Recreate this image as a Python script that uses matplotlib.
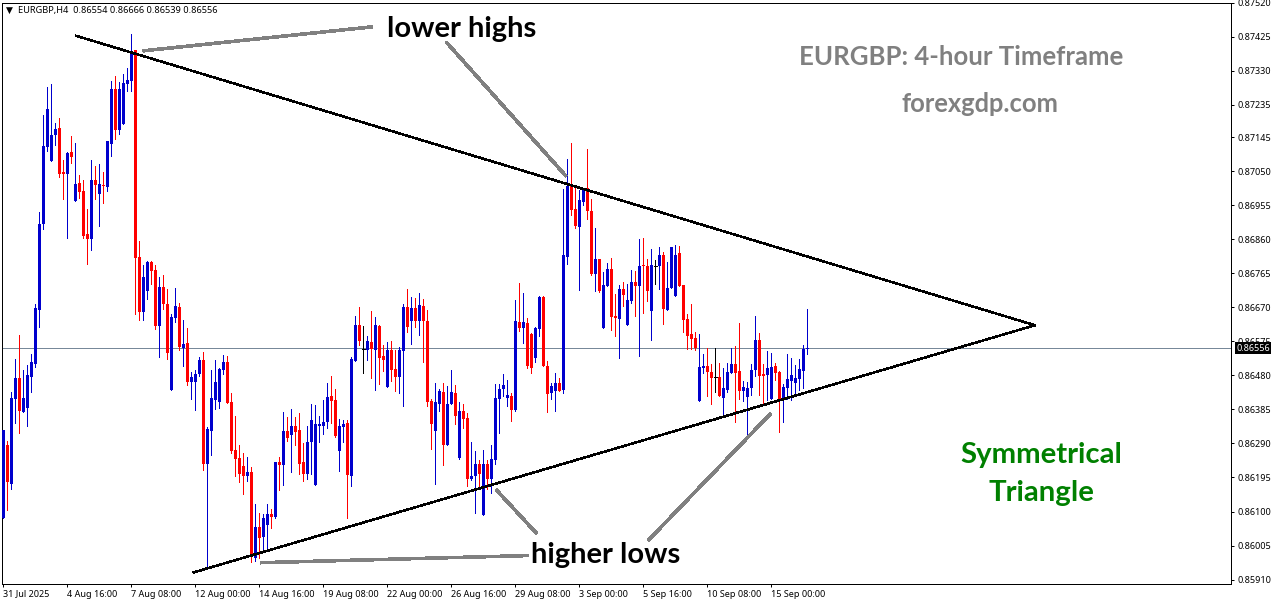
#!/usr/bin/env python3
"""EURGBP H4 candlesticks with a symmetrical triangle, MT4 style."""

import matplotlib
matplotlib.use("Agg")
import matplotlib.pyplot as plt
import matplotlib.transforms as mtransforms
import numpy as np

# OHLC in points (1 point = 0.00001), one entry per 4-hour bar
opens = [
    86081, 86287, 86178, 86413, 86472, 86377, 86388, 86475, 86511, 86662,
    86902, 87118, 87078, 87151, 87171, 87048, 87042, 87104, 86967, 87017,
    86995, 86874, 86860, 87025, 86986, 87011, 87006, 87126, 87280, 87165,
    87182, 87294, 87302, 87389, 86810, 86656, 86715, 86796, 86774, 86617,
    86726, 86679, 86438, 86640, 86670, 86556, 86570, 86461, 86461, 86483,
    86522, 86232, 86324, 86410, 86405, 86494, 86517, 86405, 86271, 86248,
    86226, 86198, 86209, 85971, 86058, 86030, 86061, 86092, 86086, 86237,
    86229, 86324, 86313, 86338, 86327, 86237, 86206, 86293, 86173, 86338,
    86338, 86349, 86422, 86410, 86268, 86335, 86346, 86198, 86519, 86620,
    86553, 86550, 86573, 86550, 86617, 86533, 86447, 86550, 86497, 86475,
    86547, 86670, 86631, 86668, 86631, 86673, 86631, 86408, 86324, 86399,
    86433, 86287, 86399, 86430, 86248, 86380, 86360, 86190, 86198, 86232,
    86089, 86232, 86192, 86243, 86413, 86441, 86416, 86422, 86382, 86628,
    86612, 86626, 86595, 86528, 86609, 86698, 86505, 86430, 86436, 86458,
    86438, 86810, 87008, 86944, 86894, 86964, 87003, 86939, 86763, 86804,
    86612, 86729, 86777, 86645, 86637, 86721, 86620, 86687, 86740, 86729,
    86788, 86785, 86659, 86785, 86785, 86816, 86662, 86723, 86701, 86821,
    86732, 86637, 86595, 86584, 86408, 86500, 86505, 86489, 86475, 86475,
    86416, 86438, 86486, 86511, 86492, 86436, 86419, 86444, 86494, 86578,
    86483, 86480, 86413, 86505, 86489, 86413, 86444, 86464, 86458, 86469,
    86492, 86554,
]
highs = [
    86327, 86296, 86433, 86525, 86592, 86494, 86508, 86539, 86679, 86936,
    87207, 87285, 87294, 87185, 87199, 87081, 87104, 87148, 87129, 87039,
    87025, 86944, 87081, 87064, 87070, 87048, 87134, 87302, 87316, 87299,
    87322, 87338, 87433, 87389, 86855, 86788, 86799, 86799, 86788, 86754,
    86760, 86721, 86651, 86723, 86682, 86634, 86612, 86489, 86494, 86531,
    86545, 86335, 86494, 86522, 86500, 86536, 86533, 86430, 86368, 86285,
    86262, 86251, 86223, 86122, 86097, 86092, 86120, 86106, 86237, 86251,
    86377, 86363, 86385, 86363, 86374, 86290, 86338, 86399, 86396, 86366,
    86410, 86458, 86478, 86441, 86357, 86355, 86355, 86531, 86645, 86670,
    86617, 86589, 86659, 86642, 86620, 86564, 86573, 86575, 86550, 86559,
    86679, 86721, 86698, 86695, 86709, 86693, 86662, 86413, 86458, 86441,
    86458, 86450, 86494, 86452, 86405, 86399, 86374, 86293, 86268, 86243,
    86271, 86243, 86285, 86455, 86455, 86483, 86466, 86430, 86690, 86737,
    86709, 86640, 86598, 86614, 86701, 86701, 86519, 86458, 86486, 86472,
    87000, 87084, 87129, 87003, 86997, 87003, 87112, 86972, 86891, 86804,
    86768, 86793, 86807, 86707, 86732, 86740, 86735, 86774, 86771, 86860,
    86863, 86804, 86833, 86802, 86838, 86824, 86796, 86838, 86844, 86841,
    86732, 86651, 86679, 86600, 86595, 86539, 86556, 86511, 86556, 86514,
    86500, 86514, 86556, 86561, 86626, 86464, 86461, 86511, 86645, 86598,
    86511, 86547, 86542, 86514, 86492, 86455, 86539, 86528, 86508, 86525,
    86564, 86666,
]
lows = [
    86081, 86103, 86164, 86346, 86318, 86377, 86338, 86433, 86503, 86614,
    86888, 87106, 87078, 87123, 87034, 86972, 86863, 87073, 86967, 86975,
    86863, 86791, 86830, 86972, 86897, 86961, 86995, 87092, 87140, 87154,
    87182, 87274, 87274, 86651, 86634, 86634, 86693, 86735, 86609, 86531,
    86665, 86525, 86438, 86628, 86550, 86505, 86452, 86413, 86382, 86478,
    86215, 85944, 86257, 86385, 86388, 86483, 86402, 86262, 86198, 86181,
    86148, 86184, 85960, 85963, 85969, 85988, 85997, 86055, 86081, 86159,
    86173, 86296, 86209, 86285, 86206, 86184, 86190, 86206, 86173, 86293,
    86315, 86332, 86346, 86307, 86212, 86293, 86081, 86170, 86519, 86564,
    86486, 86522, 86472, 86438, 86455, 86492, 86447, 86464, 86436, 86430,
    86394, 86600, 86567, 86614, 86592, 86517, 86394, 86274, 86176, 86380,
    86229, 86287, 86399, 86343, 86246, 86332, 86170, 86187, 86095, 86164,
    86089, 86164, 86151, 86232, 86318, 86422, 86394, 86352, 86380, 86603,
    86570, 86500, 86486, 86517, 86589, 86505, 86377, 86413, 86380, 86436,
    86430, 86791, 86927, 86891, 86718, 86955, 86916, 86760, 86715, 86712,
    86612, 86729, 86606, 86589, 86528, 86673, 86620, 86682, 86645, 86533,
    86654, 86687, 86578, 86735, 86721, 86623, 86662, 86723, 86701, 86729,
    86600, 86553, 86553, 86550, 86408, 86486, 86422, 86399, 86433, 86422,
    86368, 86433, 86486, 86349, 86413, 86408, 86313, 86424, 86478, 86424,
    86396, 86410, 86413, 86466, 86321, 86349, 86413, 86410, 86424, 86438,
    86444, 86539,
]
closes = [
    86327, 86181, 86416, 86472, 86380, 86416, 86480, 86517, 86668, 86902,
    87120, 87224, 87151, 87168, 87042, 87042, 87101, 87090, 87014, 86992,
    86869, 86860, 87025, 87011, 87014, 87008, 87134, 87280, 87165, 87280,
    87296, 87305, 87383, 86807, 86656, 86754, 86796, 86771, 86617, 86726,
    86679, 86542, 86642, 86673, 86559, 86567, 86461, 86475, 86483, 86522,
    86232, 86329, 86416, 86461, 86497, 86517, 86402, 86268, 86246, 86204,
    86198, 86209, 85974, 86058, 86027, 86083, 86092, 86086, 86237, 86229,
    86324, 86304, 86338, 86321, 86234, 86206, 86293, 86355, 86343, 86343,
    86349, 86419, 86408, 86310, 86338, 86343, 86201, 86525, 86620, 86575,
    86553, 86575, 86553, 86620, 86528, 86522, 86550, 86494, 86475, 86550,
    86670, 86614, 86668, 86631, 86676, 86631, 86405, 86343, 86405, 86436,
    86287, 86399, 86433, 86366, 86380, 86357, 86190, 86198, 86232, 86204,
    86232, 86190, 86246, 86416, 86441, 86452, 86424, 86382, 86631, 86612,
    86628, 86505, 86500, 86612, 86698, 86505, 86427, 86450, 86458, 86436,
    86816, 87008, 86941, 86897, 86969, 87003, 86939, 86763, 86804, 86715,
    86732, 86777, 86642, 86640, 86721, 86704, 86690, 86740, 86729, 86785,
    86785, 86715, 86788, 86785, 86816, 86665, 86723, 86838, 86816, 86729,
    86634, 86589, 86581, 86556, 86503, 86505, 86489, 86472, 86475, 86422,
    86444, 86489, 86511, 86486, 86436, 86447, 86444, 86494, 86578, 86478,
    86478, 86500, 86503, 86486, 86413, 86447, 86469, 86480, 86472, 86497,
    86553, 86556,
]

time_labels = [
    "31 Jul 2025", "4 Aug 16:00", "7 Aug 08:00", "12 Aug 00:00", "14 Aug 16:00",
    "19 Aug 08:00", "22 Aug 00:00", "26 Aug 16:00", "29 Aug 08:00", "3 Sep 00:00",
    "5 Sep 16:00", "10 Sep 08:00", "15 Sep 00:00",
]
price_ticks = [
    0.87520, 0.87425, 0.87330, 0.87235, 0.87145, 0.87050, 0.86955, 0.86860, 0.86765,
    0.86670, 0.86575, 0.86480, 0.86385, 0.86290, 0.86195, 0.86100, 0.86005, 0.85910,
]

# trend lines: (bar, price) at start and end
upper_bars = [18.2, 257.9]
upper_prices = [0.87428, 0.86620]
lower_bars = [47.6, 257.9]
lower_prices = [0.85930, 0.86620]

# grey pointer lines: (bar, price) pairs
pointers = [
    ([34.9, 92.2], [0.87386, 0.87453]),
    ([110.7, 140.7], [0.87411, 0.87036]),
    ([64.2, 131.2], [0.85957, 0.85977]),
    ([123.2, 133.4], [0.86161, 0.86038]),
    ([161.2, 191.9], [0.86019, 0.86374]),
]

FIG_W, FIG_H = 1276, 604
AX_L, AX_R, AX_T, AX_B = 2.5, 1230.5, 2.5, 583.5
BLUE, RED = "#0000CD", "#FF0000"
PX = 72 / 100  # one pixel in points at dpi 100
FONT = ["Noto Sans", "DejaVu Sans"]
TITLE_FONT = ["Lato", "DejaVu Sans"]

o, h, l, c = (np.array(a) / 1e5 for a in (opens, highs, lows, closes))
bars = np.arange(len(o))
colors = np.where(c > o, BLUE, np.where(c < o, RED, "black"))

fig = plt.figure(figsize=(FIG_W / 100, FIG_H / 100), dpi=100, facecolor="white")
ax = fig.add_axes([AX_L / FIG_W, 1 - AX_B / FIG_H, (AX_R - AX_L) / FIG_W, (AX_B - AX_T) / FIG_H])
ax.set_xlim(-0.2, 306.8)
ax.set_ylim(0.85899, 0.87521)

ax.axhline(c[-1], color="#778899", lw=PX, zorder=1)
ax.vlines(bars, l, h, colors=colors, lw=PX, antialiased=False, zorder=2)
body_low = np.minimum(o, c)
ax.bar(bars, np.abs(c - o), bottom=body_low, width=0.72, color=colors, lw=0,
       antialiased=False, zorder=3)
flat = c == o
ax.hlines(c[flat], bars[flat] - 0.36, bars[flat] + 0.36, colors="black", lw=PX,
          antialiased=False, zorder=3)

ax.plot(upper_bars, upper_prices, color="black", lw=1.5 * PX, antialiased=False, zorder=4)
ax.plot(lower_bars, lower_prices, color="black", lw=1.5 * PX, antialiased=False, zorder=4)
for xs, ys in pointers:
    ax.plot(xs, ys, color="#808080", lw=2.6 * PX, antialiased=False, zorder=4,
            solid_capstyle="butt")

for spine in ax.spines.values():
    spine.set_linewidth(PX)
ax.yaxis.tick_right()
ax.set_yticks(price_ticks, [f"{p:.5f}" for p in price_ticks])
ax.set_xticks(bars[::16][:len(time_labels)], time_labels, ha="left")
ax.tick_params(axis="y", length=2.2, width=PX, pad=2.5, labelsize=6.5)
ax.tick_params(axis="x", length=2.2, width=PX, pad=2.2, labelsize=6.5)
for lab in ax.get_xticklabels() + ax.get_yticklabels():
    lab.set_fontfamily(FONT)

# current price tag on the axis
tag_trans = mtransforms.blended_transform_factory(fig.transFigure, ax.transData)
ax.text((AX_R + 22.5) / FIG_W, c[-1], f"{c[-1]:.5f}", transform=tag_trans,
        ha="center", va="center", color="white", fontsize=6.5, family=FONT, clip_on=False, zorder=10,
        bbox=dict(boxstyle="square,pad=0.14", fc="black", ec="black", lw=0))


def label(x, y, text, **kw):
    fig.text(x / FIG_W, 1 - y / FIG_H, text, va="center", **kw)


label(5.5, 10, "\u25bc", fontsize=6.5, color="black", family=FONT)
label(18, 10, f"EURGBP,H4  {o[-1]:.5f} {h[-1]:.5f} {l[-1]:.5f} {c[-1]:.5f}",
      fontsize=6.65, color="black", family=FONT)

bold = dict(family=TITLE_FONT, fontweight="bold", ha="center")
label(462, 29.5, "lower highs", fontsize=21, color="black", **bold)
label(606, 554.5, "higher lows", fontsize=21, color="black", **bold)
label(961.5, 57, "EURGBP: 4-hour Timeframe", fontsize=18.5, color="#808080", **bold)
label(980, 104.5, "forexgdp.com", fontsize=18.4, color="#808080", **bold)
label(1041, 454.5, "Symmetrical", fontsize=21.2, color="#008000", **bold)
label(1041, 492.5, "Triangle", fontsize=21.2, color="#008000", **bold)

fig.savefig("out.png", dpi=100)
